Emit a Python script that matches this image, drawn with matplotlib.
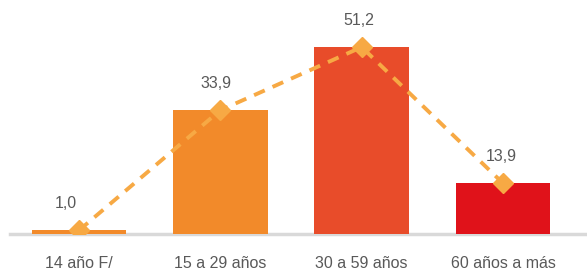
import numpy as np
import matplotlib.pyplot as plt

categories = ['14 año F/', '15 a 29 años', '30 a 59 años', '60 años a más']
values = [1.0, 33.9, 51.2, 13.9]
labels = ['1,0', '33,9', '51,2', '13,9']
bar_colors = ['#F28A2A', '#F28A2A', '#E84C2A', '#E0121A']
label_shift = [-0.095, -0.03, -0.02, -0.01]

plt.rcParams['font.family'] = ['Liberation Sans', 'DejaVu Sans']

fig = plt.figure(figsize=(5.87, 2.72), dpi=100)
ax = fig.add_axes([10 / 587, 38 / 272, 577 / 587, 234 / 272])

x = np.arange(len(categories))
ax.bar(x, values, width=0.67, color=bar_colors, zorder=2)
ax.plot(x, values, linestyle=(0, (3, 2.2)), linewidth=2.8, color='#F7A944',
        marker='D', markersize=10.5, zorder=3)

for xi, v, lab, dx in zip(x, values, labels, label_shift):
    ax.text(xi + dx, v + 7.4, lab, ha='center', va='center', fontsize=11.5, color='#595959')

ax.set_xlim(-0.488, 3.594)
ax.set_ylim(0, 64.1)
ax.set_xticks(x)
ax.set_xticklabels(categories, fontsize=11.5, color='#595959')
ax.tick_params(axis='x', length=0, pad=16)
ax.set_yticks([])
for s in ['top', 'right', 'left']:
    ax.spines[s].set_visible(False)
ax.spines['bottom'].set_color('#D9D9D9')
ax.spines['bottom'].set_linewidth(2.5)
ax.spines['bottom'].set_zorder(1)

fig.savefig('out.png', dpi=100)
